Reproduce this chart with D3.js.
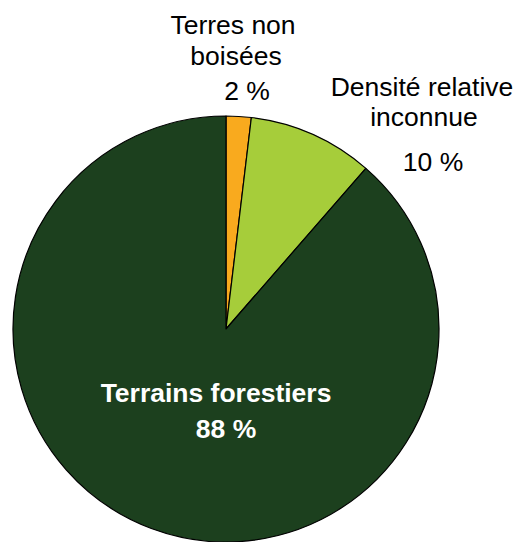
<!DOCTYPE html>
<html>
<head>
<meta charset="utf-8">
<script src="https://cdn.jsdelivr.net/npm/d3@7"></script>
<style>
html,body{margin:0;padding:0;background:#fff;}
svg{display:block;}
text{font-family:"Liberation Sans",Arial,Helvetica,sans-serif;}
</style>
</head>
<body>
<svg id="chart" width="516" height="542"></svg>
<script>
// Data
const categories = ["Terres non boisées", "Densité relative inconnue", "Terrains forestiers"];
const values = [1.9, 9.5, 88.6];
const labelLines = [["Terres non", "boisées"], ["Densité relative", "inconnue"], ["Terrains forestiers"]];
const percentLabels = ["2 %", "10 %", "88 %"];
const colors = ["#F9AA1E", "#A6CD3A", "#1C401E"];

const svg = d3.select("#chart");
const cx = 226, cy = 329, R = 213;

const pie = d3.pie().sort(null).value(d => d)(values);
const arc = d3.arc().innerRadius(0).outerRadius(R);

const g = svg.append("g").attr("transform", `translate(${cx},${cy})`);
g.selectAll("path").data(pie).join("path")
  .attr("d", arc)
  .attr("fill", (d, i) => colors[i])
  .attr("stroke", "#000")
  .attr("stroke-width", 1.2)
  .attr("stroke-linejoin", "round");

// Label layout (positions relative to svg)
const layout = [
  {lines: [{x: 233, y: 34}, {x: 236, y: 65}], pct: {x: 247, y: 100}, fill: "#000", weight: "normal"},
  {lines: [{x: 422, y: 96}, {x: 424, y: 126}], pct: {x: 433, y: 171}, fill: "#000", weight: "normal"},
  {lines: [{x: 216, y: 402}], pct: {x: 226, y: 438}, fill: "#fff", weight: "bold"}
];

layout.forEach((L, i) => {
  labelLines[i].forEach((t, j) => {
    svg.append("text")
      .attr("x", L.lines[j].x).attr("y", L.lines[j].y)
      .attr("text-anchor", "middle")
      .attr("font-size", 26.5)
      .attr("font-weight", L.weight)
      .attr("fill", L.fill)
      .text(t);
  });
  svg.append("text")
    .attr("x", L.pct.x).attr("y", L.pct.y)
    .attr("text-anchor", "middle")
    .attr("font-size", 26.5)
    .attr("font-weight", L.weight)
    .attr("fill", L.fill)
    .text(percentLabels[i]);
});
</script>
</body>
</html>
